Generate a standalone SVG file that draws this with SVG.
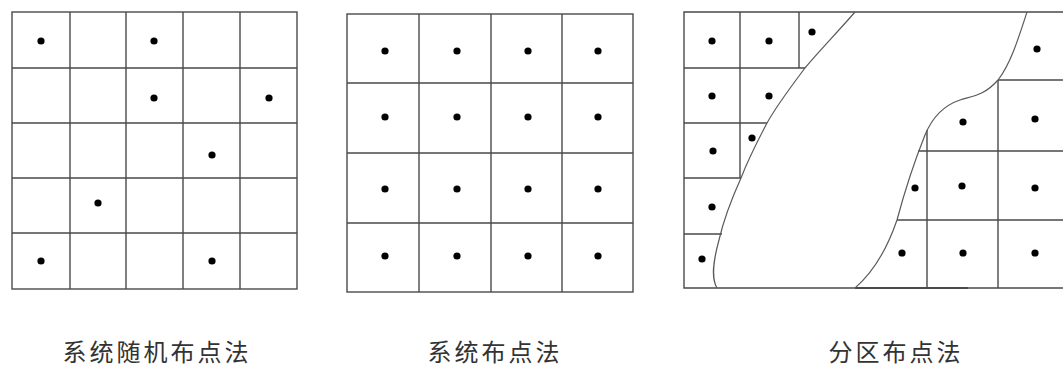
<svg xmlns="http://www.w3.org/2000/svg" width="1063" height="367" viewBox="0 0 1063 367">
<style>
.g{stroke:#4a4a4a;stroke-width:1.4;fill:none}
.c{stroke:#5a5a5a;stroke-width:1.2;fill:none}
.d{fill:#000}
.t{font-family:"Liberation Serif","Noto Sans CJK SC",serif;font-size:24px;fill:#333;text-anchor:middle;letter-spacing:3px}
</style>
<rect width="1063" height="367" fill="#fff"/>
<g id="panel1">
<rect class="g" x="12" y="12" width="285" height="277"/>
<path class="g" d="M70,12V289M126,12V289M183,12V289M240,12V289M12,68H297M12,123H297M12,178H297M12,233H297"/>
<g class="d">
<circle cx="41" cy="41" r="3.6"/><circle cx="154" cy="41" r="3.6"/>
<circle cx="154" cy="98" r="3.6"/><circle cx="269" cy="98" r="3.6"/>
<circle cx="212" cy="155" r="3.6"/><circle cx="98" cy="203" r="3.6"/>
<circle cx="41" cy="261" r="3.6"/><circle cx="212" cy="261" r="3.6"/>
</g>
<text class="t" x="157" y="361">系统随机布点法</text>
</g>
<g id="panel2">
<rect class="g" x="347" y="14" width="286" height="278"/>
<path class="g" d="M419,14V292M491,14V292M562,14V292M347,83H633M347,153H633M347,223H633"/>
<g class="d">
<circle cx="385" cy="51" r="3.6"/><circle cx="457" cy="51" r="3.6"/><circle cx="528" cy="51" r="3.6"/><circle cx="598" cy="51" r="3.6"/>
<circle cx="385" cy="117" r="3.6"/><circle cx="457" cy="117" r="3.6"/><circle cx="528" cy="117" r="3.6"/><circle cx="598" cy="117" r="3.6"/>
<circle cx="385" cy="189" r="3.6"/><circle cx="457" cy="189" r="3.6"/><circle cx="528" cy="189" r="3.6"/><circle cx="598" cy="189" r="3.6"/>
<circle cx="385" cy="256" r="3.6"/><circle cx="457" cy="256" r="3.6"/><circle cx="528" cy="256" r="3.6"/><circle cx="598" cy="256" r="3.6"/>
</g>
<text class="t" x="495" y="361">系统布点法</text>
</g>
<g id="panel3">
<path class="g" d="M1063,12H684V288H1063"/>
<path class="g" d="M855,288H968" style="stroke-width:2.2"/>
<path class="g" d="M740,12V178M799,12V68M684,68H805M684,123H767M684,178H741M684,234H722"/>
<path class="g" d="M998,80H1063M998,80V288M927,130V288M918,151H1063M897,220H1063"/>
<path class="c" d="M855,12C835,35 818,52 805,68C790,88 777,105 767,123C757,142 748,160 741,178C732,198 724,218 719,240C713,262 711,278 717,288"/>
<path class="c" d="M1027,12C1018,40 1010,65 998,80C985,95 973,96 960,100C942,106 932,118 925,135C915,160 905,190 897,220C885,255 870,275 855,288"/>
<g class="d">
<circle cx="712" cy="41" r="3.6"/><circle cx="769" cy="41" r="3.6"/><circle cx="812" cy="32" r="3.6"/>
<circle cx="1037" cy="49" r="3.6"/>
<circle cx="712" cy="96" r="3.6"/><circle cx="769" cy="96" r="3.6"/>
<circle cx="713" cy="151" r="3.6"/><circle cx="752" cy="138" r="3.6"/>
<circle cx="712" cy="207" r="3.6"/><circle cx="702" cy="259" r="3.6"/>
<circle cx="963" cy="122" r="3.6"/><circle cx="1035" cy="119" r="3.6"/>
<circle cx="915" cy="188" r="3.6"/><circle cx="962" cy="186" r="3.6"/><circle cx="1035" cy="188" r="3.6"/>
<circle cx="902" cy="253" r="3.6"/><circle cx="963" cy="253" r="3.6"/><circle cx="1035" cy="253" r="3.6"/>
</g>
<text class="t" x="896" y="361">分区布点法</text>
</g>
</svg>
